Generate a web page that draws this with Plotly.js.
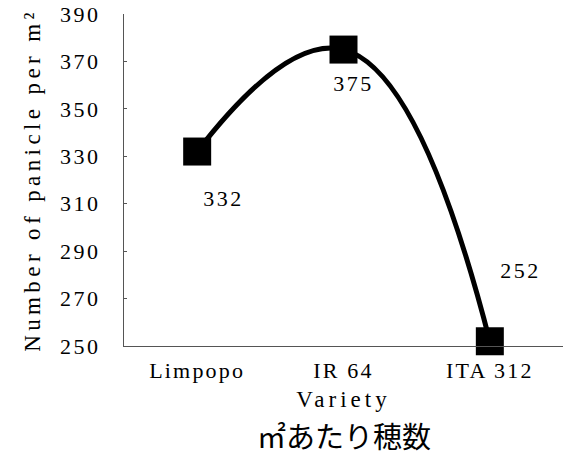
<!DOCTYPE html>
<html>
<head>
<meta charset="utf-8">
<script src="https://cdn.plot.ly/plotly-3.0.1.min.js"></script>
<style>
html,body{margin:0;padding:0;background:#fff;}
#chart{width:563px;height:458px;}
#chart .xtick text{letter-spacing:2.2px;}
#chart .ytick text{letter-spacing:2.5px;}
#chart .g-xtitle text{letter-spacing:4px;}
#chart .g-ytitle text{letter-spacing:4.4px;}
#chart .annotation-text.num{letter-spacing:2.5px;}
</style>
</head>
<body>
<div id="chart"></div>
<script>
const varieties = ["Limpopo", "IR 64", "ITA 312"];
const paniclesPerM2 = [332, 375, 252];
const yTicks = [250, 270, 290, 310, 330, 350, 370, 390];

const latin = "Liberation Serif, DejaVu Serif, serif";
const cjk = "Noto Sans CJK JP, sans-serif";

// label offsets (pixels) relative to each point
const labelShift = [[26, -47], [10, -34], [31, 71]];

const annotations = paniclesPerM2.map((v, i) => ({
  x: varieties[i], y: v, xref: "x", yref: "y",
  text: String(v), showarrow: false,
  xshift: labelShift[i][0], yshift: labelShift[i][1],
  font: {family: latin, size: 22, color: "#000"}
}));
annotations.push({
  x: 0.5, y: -(435 - 346) / 332, xref: "paper", yref: "paper", yanchor: "middle",
  text: "㎡あたり穂数", showarrow: false,
  font: {family: cjk, size: 29, color: "#000"}
});

const trace = {
  x: varieties, y: paniclesPerM2,
  type: "scatter", mode: "lines+markers",
  line: {shape: "spline", smoothing: 1.3, color: "#000", width: 5},
  marker: {symbol: "square", size: 28, color: "#000"},
  cliponaxis: false, hoverinfo: "none"
};

const layout = {
  width: 563, height: 458,
  margin: {l: 124, r: 0, t: 14, b: 112},
  paper_bgcolor: "#fff", plot_bgcolor: "#fff",
  showlegend: false,
  xaxis: {
    type: "category", range: [-0.5, 2.5],
    showgrid: false, zeroline: false,
    showline: true, linecolor: "#555", linewidth: 1,
    ticks: "", ticklabelstandoff: 5,
    tickfont: {family: latin, size: 22, color: "#000"},
    title: {text: "Variety", standoff: 8, font: {family: latin, size: 23, color: "#000"}}
  },
  yaxis: {
    range: [250, 390], tickvals: yTicks,
    showgrid: false, zeroline: false,
    showline: true, linecolor: "#555", linewidth: 1,
    ticks: "inside", ticklen: 3, tickcolor: "#555",
    ticklabelstandoff: 18,
    tickfont: {family: latin, size: 22, color: "#000"},
    title: {text: "Number of panicle per m²", standoff: 20, font: {family: latin, size: 23, color: "#000"}}
  },
  annotations: annotations
};

Plotly.newPlot("chart", [trace], layout, {staticPlot: true, displayModeBar: false}).then(function(gd){
  gd.querySelectorAll(".annotation-text").forEach(function(t){
    if (/^\d+$/.test(t.textContent)) t.classList.add("num");
  });
});
</script>
</body>
</html>
